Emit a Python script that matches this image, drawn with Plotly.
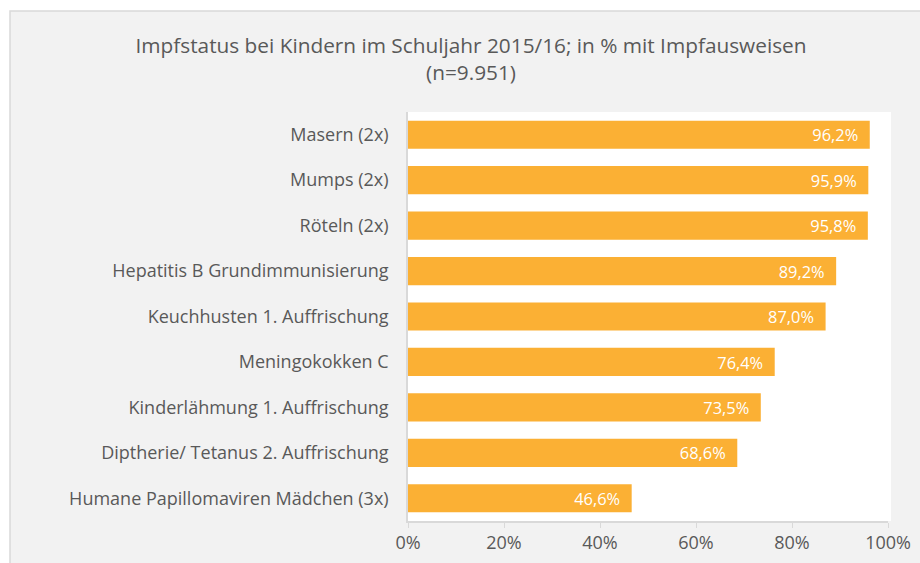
import plotly.graph_objects as go

categories = [
    "Masern (2x)",
    "Mumps (2x)",
    "Röteln (2x)",
    "Hepatitis B Grundimmunisierung",
    "Keuchhusten 1. Auffrischung",
    "Meningokokken C",
    "Kinderlähmung 1. Auffrischung",
    "Diptherie/ Tetanus 2. Auffrischung",
    "Humane Papillomaviren Mädchen (3x)",
]
values = [96.2, 95.9, 95.8, 89.2, 87.0, 76.4, 73.5, 68.6, 46.6]
tick_vals = [0, 20, 40, 60, 80, 100]
tick_text = ["0%", "20%", "40%", "60%", "80%", "100%"]
labels = [f"{v:.1f}%".replace(".", ",") + "\u00a0\u00a0" for v in values]

W, H = 920, 563
L, R, T, B = 408, 32, 112, 42
pw = W - L - R
ph = H - T - B

def px_x(p):
    return (p - L) / pw

def px_y(p):
    return 1 - (p - T) / ph

FONT = "Open Sans"
fig = go.Figure(go.Bar(
    x=values, y=categories, orientation="h",
    marker=dict(color="#FBB034", line=dict(width=0)),
    text=labels, textposition="inside", insidetextanchor="end",
    textfont=dict(color="white", size=18.5, family=FONT),
    cliponaxis=False,
))

fig.update_layout(
    width=W, height=H,
    margin=dict(l=L, r=R, t=T, b=B, autoexpand=False),
    paper_bgcolor="white",
    plot_bgcolor="white",
    bargap=0.38,
    showlegend=False,
    font=dict(family=FONT, color="#595959", size=18),
    title=dict(
        text="Impfstatus bei Kindern im Schuljahr 2015/16; in % mit Impfausweisen<br>(n=9.951)",
        x=px_x(471), xref="paper", xanchor="center",
        y=1 - 53 / H, yanchor="top",
        font=dict(size=20.8, color="#595959", family=FONT),
    ),
    xaxis=dict(
        range=[0, 100], tickvals=tick_vals, ticktext=tick_text,
        showgrid=False, zeroline=False, automargin=False,
        showline=True, linecolor="#D9D9D9", linewidth=1.5,
        ticks="outside", ticklen=5, tickcolor="#D9D9D9",
        tickfont=dict(size=18, color="#595959"),
    ),
    yaxis=dict(
        autorange="reversed", showgrid=False, zeroline=False, automargin=False,
        showline=True, linecolor="#D9D9D9", linewidth=1.5,
        ticks="", ticklen=0, ticksuffix="\u00a0\u00a0\u00a0",
        tickfont=dict(size=18, color="#595959"),
    ),
    shapes=[
        dict(type="rect", xref="paper", yref="paper", layer="below",
             x0=px_x(10), x1=px_x(932), y0=px_y(600), y1=px_y(11),
             fillcolor="#F2F2F2", line=dict(color="#D9D9D9", width=1.5)),
        dict(type="rect", xref="paper", yref="paper", layer="below",
             x0=0, x1=px_x(891), y0=px_y(521), y1=px_y(112),
             fillcolor="white", line=dict(width=0)),
    ],
)

fig.write_html("out.html", config={"displayModeBar": False},
               post_script="document.body.style.margin='0';")
